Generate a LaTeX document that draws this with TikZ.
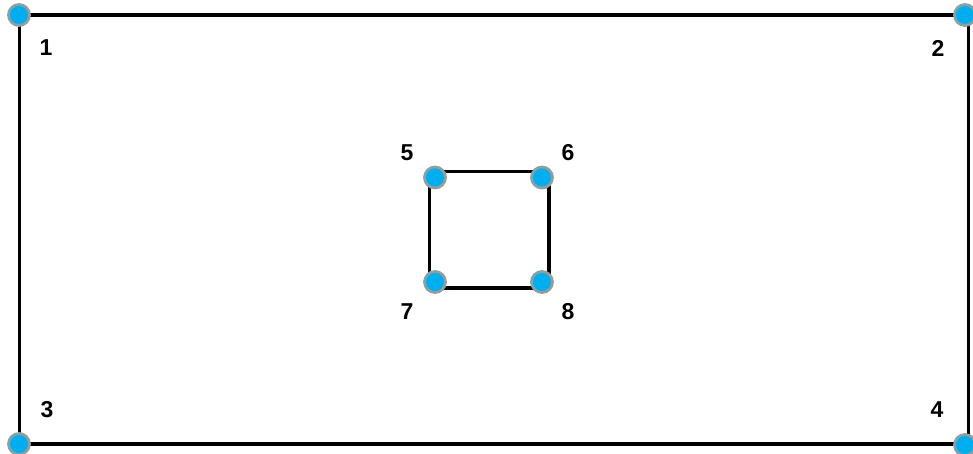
\documentclass[tikz,border=0pt]{standalone}
\usepackage{fontspec}
\setmainfont{Liberation Sans}
\begin{document}
\begin{tikzpicture}[x=1pt,y=-1pt,
  edge/.style={draw=black,line width=3.5pt,line cap=rect},
  pin/.style={circle,line width=2.8pt,minimum size=21pt,inner sep=0pt},
  lbl/.style={font=\bfseries\fontsize{23}{23}\selectfont,inner sep=0pt,text=black}]
\definecolor{pinfill}{RGB}{0,174,239}
\definecolor{pinring}{RGB}{138,160,162}
\tikzset{pin/.append style={fill=pinfill,draw=pinring}}
\useasboundingbox (0,0) rectangle (973,454);
% outer frame corners
\coordinate (a1) at (19.5,15);
\coordinate (a2) at (968.5,15);
\coordinate (a3) at (19.5,444);
\coordinate (a4) at (968.5,444);
% inner square corners
\coordinate (b5) at (429.5,171.5);
\coordinate (b6) at (549,171.5);
\coordinate (b7) at (429.5,288);
\coordinate (b8) at (549,288);
\draw[edge] (a1) -- (a2) -- (a4) -- (a3) -- cycle;
\draw[edge] (b5) -- (b6) -- (b8) -- (b7) -- cycle;
% points
\node[pin] (p1) at (19,15) {};
\node[pin] (p2) at (965,15) {};
\node[pin] (p3) at (19,444) {};
\node[pin] (p4) at (965,445) {};
\node[pin] (p5) at (435,177.5) {};
\node[pin] (p6) at (542,177.5) {};
\node[pin] (p7) at (435,282) {};
\node[pin] (p8) at (542,282) {};
% labels
\node[lbl] (l1) at (46,48) {1};
\node[lbl] (l2) at (938,48) {2};
\node[lbl] (l3) at (47,410) {3};
\node[lbl] (l4) at (937,410) {4};
\node[lbl] (l5) at (407,153) {5};
\node[lbl] (l6) at (568,153) {6};
\node[lbl] (l7) at (407,312) {7};
\node[lbl] (l8) at (568,312) {8};
\end{tikzpicture}
\end{document}
